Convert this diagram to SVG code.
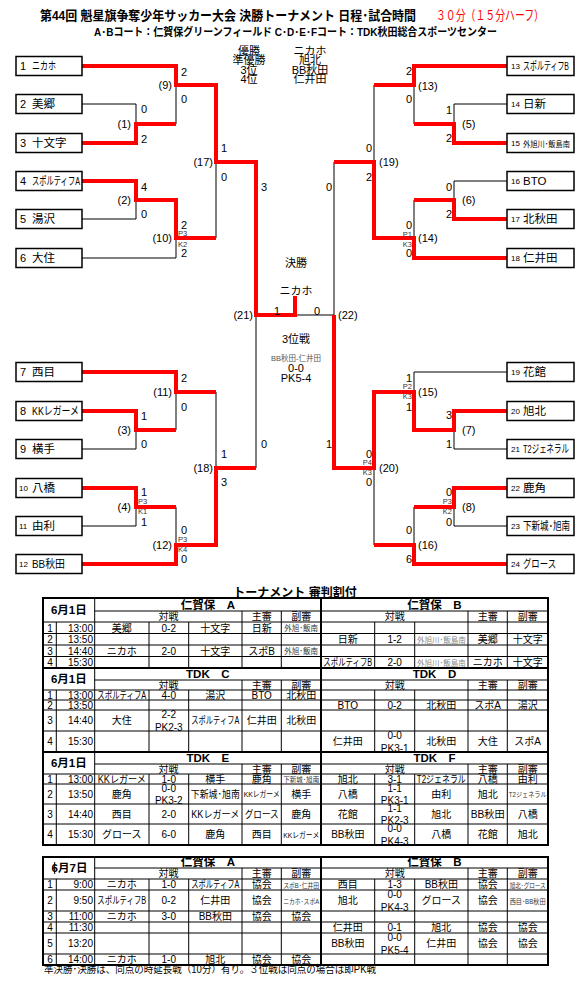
<svg xmlns="http://www.w3.org/2000/svg" width="588" height="983" viewBox="0 0 588 983">
<style>
text{font-family:"Liberation Sans","Noto Sans CJK JP",sans-serif;fill:#000}
.nm{font-size:11.5px}
.no{font-size:11px}
.ns{font-size:8px}
.sc{font-size:11px}
.pk{font-size:7.5px;fill:#333}
.bx{fill:#fff;stroke:#000;stroke-width:1.5}
.bl{fill:none;stroke:#000;stroke-width:1}
.rd{fill:none;stroke:#f00;stroke-width:4}
.m{text-anchor:middle}
.e{text-anchor:end}
.tb{font-size:10px}
.hb{font-size:11.5px;font-weight:bold}
.sm{font-size:7.5px;fill:#333}
.xs{font-size:6.5px;fill:#333}
.gr{fill:#888}
.tl{stroke:#000;stroke-width:1;fill:none}
.tk{stroke:#000;stroke-width:2;fill:none}
</style>

<g id="title">
<text x="40" y="20" font-size="13" font-weight="bold" textLength="376" lengthAdjust="spacingAndGlyphs">第44回 魁星旗争奪少年サッカー大会 決勝トーナメント 日程･試合時間</text>
<text x="436" y="20" font-size="13.5" style="fill:#f00" textLength="108" lengthAdjust="spacingAndGlyphs">３０分（１５分ハーフ）</text>
<text x="94" y="36" font-size="11" font-weight="bold" textLength="403" lengthAdjust="spacingAndGlyphs">A･Bコート：仁賀保グリーンフィールド C･D･E･Fコート：TDK秋田総合スポーツセンター</text>
</g>

<g id="results" font-size="11">
<text class="m" x="249" y="55">優勝</text>
<text class="m" x="249" y="64">準優勝</text>
<text class="m" x="249" y="73.5">3位</text>
<text class="m" x="249" y="83">4位</text>
<text class="m" x="310" y="55">ニカホ</text>
<text class="m" x="310" y="64">旭北</text>
<text class="m" x="310" y="73.5">BB秋田</text>
<text class="m" x="310" y="83">仁井田</text>
</g>

<g id="connectors">
<path class="bl" d="M82,104H136V143 M176,66V124 M82,219H136V181 M82,258H176V200 M216,85V238 M256,162V468 M82,449H136V411 M176,372V430 M82,526H136V488 M176,507V564 M216,392V545 M414,66V124 M507,104H454V143 M374,85V238 M507,181H454V219 M414,200V258 M334,162V468 M256,315H334 M507,372H414V430 M507,449H454V411 M374,392V545 M507,526H454V488 M414,507V564"/>
<path class="rd" d="M82,66H176V85H216V162H256V315H295V296"/>
<path class="rd" d="M82,143H136V124H176"/>
<path class="rd" d="M82,181H136V200H176V238H216"/>
<path class="rd" d="M82,372H176V392H216"/>
<path class="rd" d="M82,411H136V430H176"/>
<path class="rd" d="M82,488H136V507H176"/>
<path class="rd" d="M82,564H176V545H216V468H256"/>
<path class="rd" d="M507,66H414V85H374"/>
<path class="rd" d="M507,143H454V124H414"/>
<path class="rd" d="M507,219H454V200H414"/>
<path class="rd" d="M507,258H414V238H374V162H334"/>
<path class="rd" d="M507,411H454V430H414V392H374V468H334V315"/>
<path class="rd" d="M507,488H454V507H414"/>
<path class="rd" d="M507,564H414V545H374"/>
</g>

<g id="scores" class="sc">
<text x="181" y="76">2</text><text class="e" x="172" y="89">(9)</text><text x="181" y="103">0</text>
<text x="141" y="113">0</text><text class="e" x="131" y="128">(1)</text><text x="141" y="143">2</text>
<text x="221" y="152">1</text><text class="e" x="213" y="166">(17)</text><text x="221" y="181">0</text>
<text x="261" y="191">3</text>
<text x="141" y="191">4</text><text class="e" x="131" y="204">(2)</text><text x="141" y="218">0</text>
<text x="181" y="229">2</text><text class="pk" x="178" y="235.7">P3</text><text class="e" x="172" y="242">(10)</text><text class="pk" x="178" y="246.7">K2</text><text x="181" y="257">2</text>
<text class="e" x="253" y="319">(21)</text>
<text x="181" y="382">2</text><text class="e" x="172" y="396">(11)</text><text x="181" y="411">0</text>
<text x="141" y="420">1</text><text class="e" x="131" y="434">(3)</text><text x="141" y="448">0</text>
<text x="261" y="448">0</text>
<text x="221" y="458">1</text><text class="e" x="213" y="472">(18)</text><text x="221" y="486">3</text>
<text x="141" y="496">1</text><text class="pk" x="138" y="504.4">P3</text><text class="e" x="131" y="511">(4)</text><text class="pk" x="138" y="513.7">K1</text><text x="141" y="526">1</text>
<text x="181" y="534">0</text><text class="pk" x="178" y="541.7">P3</text><text class="e" x="172" y="549">(12)</text><text class="pk" x="178" y="551.7">K4</text><text x="181" y="563">0</text>

<text class="e" x="412" y="75">2</text><text x="418" y="89.7">(13)</text><text class="e" x="412" y="103">0</text>
<text class="e" x="452" y="114">1</text><text x="462" y="128">(5)</text><text class="e" x="452" y="142">2</text>
<text class="e" x="372" y="151.7">0</text><text x="379" y="165.7">(19)</text><text class="e" x="372" y="180.7">2</text>
<text class="e" x="332" y="190.7">0</text>
<text class="e" x="452" y="190.7">0</text><text x="462" y="204">(6)</text><text class="e" x="452" y="218">2</text>
<text class="e" x="412" y="229">0</text><text class="pk e" x="412" y="236.7">P1</text><text x="418" y="241.7">(14)</text><text class="pk e" x="412" y="246.7">K3</text><text class="e" x="412" y="257">0</text>
<text x="338" y="319">(22)</text>
<text class="e" x="412" y="381.7">1</text><text class="pk e" x="412" y="389.4">P2</text><text x="418" y="395.7">(15)</text><text class="pk e" x="412" y="399.4">K3</text><text class="e" x="412" y="410.7">1</text>
<text class="e" x="452" y="419">3</text><text x="462" y="434">(7)</text><text class="e" x="452" y="448">1</text>
<text class="e" x="332" y="448">1</text>
<text class="e" x="372" y="458">0</text><text class="pk e" x="372" y="465.4">P4</text><text x="379" y="472.3">(20)</text><text class="pk e" x="372" y="475.4">K3</text><text class="e" x="372" y="486">0</text>
<text class="e" x="452" y="496">0</text><text class="pk e" x="452" y="504.4">P3</text><text x="462" y="510.7">(8)</text><text class="pk e" x="452" y="513.7">K2</text><text class="e" x="452" y="525.7">0</text>
<text class="e" x="412" y="534">0</text><text x="418" y="549.3">(16)</text><text class="e" x="412" y="563">6</text>
</g>

<g id="final">
<text class="m" x="296" y="267" font-size="11">決勝</text>
<text class="m" x="296" y="295" font-size="11">ニカホ</text>
<text class="m sc" x="277" y="314.5">1</text>
<text class="m sc" x="317" y="314.5">0</text>
<text class="m" x="296" y="343" font-size="11">3位戦</text>
<text class="m" x="296" y="361" font-size="7.5" style="fill:#555">BB秋田-仁井田</text>
<text class="m sc" x="296" y="371.5">0-0</text>
<text class="m sc" x="296" y="382">PK5-4</text>
</g>

<g id="team-1"><rect class="bx" x="16" y="56.5" width="66" height="19"/><text class="no" x="20" y="70">1</text><text class="nm" x="32" y="70" textLength="24" lengthAdjust="spacingAndGlyphs">ニカホ</text></g>
<g id="team-2"><rect class="bx" x="16" y="94.5" width="66" height="19"/><text class="no" x="20" y="108">2</text><text class="nm" x="32" y="108">美郷</text></g>
<g id="team-3"><rect class="bx" x="16" y="133.5" width="66" height="19"/><text class="no" x="20" y="147">3</text><text class="nm" x="32" y="147">十文字</text></g>
<g id="team-4"><rect class="bx" x="16" y="171.5" width="66" height="19"/><text class="no" x="20" y="185">4</text><text class="nm" x="32" y="185" textLength="48" lengthAdjust="spacingAndGlyphs">スポルティフA</text></g>
<g id="team-5"><rect class="bx" x="16" y="209.5" width="66" height="19"/><text class="no" x="20" y="223">5</text><text class="nm" x="32" y="223">湯沢</text></g>
<g id="team-6"><rect class="bx" x="16" y="248.5" width="66" height="19"/><text class="no" x="20" y="262">6</text><text class="nm" x="32" y="262">大住</text></g>
<g id="team-7"><rect class="bx" x="16" y="362.5" width="66" height="19"/><text class="no" x="20" y="376">7</text><text class="nm" x="32" y="376">西目</text></g>
<g id="team-8"><rect class="bx" x="16" y="401.5" width="66" height="19"/><text class="no" x="20" y="415">8</text><text class="nm" x="32" y="415" textLength="47" lengthAdjust="spacingAndGlyphs">KKレガーメ</text></g>
<g id="team-9"><rect class="bx" x="16" y="439.5" width="66" height="19"/><text class="no" x="20" y="453">9</text><text class="nm" x="32" y="453">横手</text></g>
<g id="team-10"><rect class="bx" x="16" y="478.5" width="66" height="19"/><text class="ns" x="19" y="491">10</text><text class="nm" x="32" y="492">八橋</text></g>
<g id="team-11"><rect class="bx" x="16" y="516.5" width="66" height="19"/><text class="ns" x="19" y="529">11</text><text class="nm" x="32" y="530">由利</text></g>
<g id="team-12"><rect class="bx" x="16" y="554.5" width="66" height="19"/><text class="ns" x="19" y="567">12</text><text class="nm" x="32" y="568" textLength="33" lengthAdjust="spacingAndGlyphs">BB秋田</text></g>

<g id="team-13"><rect class="bx" x="507" y="56.5" width="67" height="19"/><text class="ns" x="511" y="69">13</text><text class="nm" x="523" y="70" textLength="46" lengthAdjust="spacingAndGlyphs">スポルティフB</text></g>
<g id="team-14"><rect class="bx" x="507" y="94.5" width="67" height="19"/><text class="ns" x="511" y="107">14</text><text class="nm" x="523" y="108">日新</text></g>
<g id="team-15"><rect class="bx" x="507" y="133.5" width="67" height="19"/><text class="ns" x="511" y="146">15</text><text x="523" y="146.5" font-size="8.5" textLength="47" lengthAdjust="spacingAndGlyphs">外旭川･飯島南</text></g>
<g id="team-16"><rect class="bx" x="507" y="171.5" width="67" height="19"/><text class="ns" x="511" y="184">16</text><text class="nm" x="523" y="185">BTO</text></g>
<g id="team-17"><rect class="bx" x="507" y="209.5" width="67" height="19"/><text class="ns" x="511" y="222">17</text><text class="nm" x="523" y="223">北秋田</text></g>
<g id="team-18"><rect class="bx" x="507" y="248.5" width="67" height="19"/><text class="ns" x="511" y="261">18</text><text class="nm" x="523" y="262">仁井田</text></g>
<g id="team-19"><rect class="bx" x="507" y="362.5" width="67" height="19"/><text class="ns" x="511" y="375">19</text><text class="nm" x="523" y="376">花館</text></g>
<g id="team-20"><rect class="bx" x="507" y="401.5" width="67" height="19"/><text class="ns" x="511" y="414">20</text><text class="nm" x="523" y="415">旭北</text></g>
<g id="team-21"><rect class="bx" x="507" y="439.5" width="67" height="19"/><text class="ns" x="511" y="452">21</text><text class="nm" x="523" y="453" textLength="46" lengthAdjust="spacingAndGlyphs">T2ジェネラル</text></g>
<g id="team-22"><rect class="bx" x="507" y="478.5" width="67" height="19"/><text class="ns" x="511" y="491">22</text><text class="nm" x="523" y="492">鹿角</text></g>
<g id="team-23"><rect class="bx" x="507" y="516.5" width="67" height="19"/><text class="ns" x="511" y="529">23</text><text class="nm" x="523" y="530" textLength="47" lengthAdjust="spacingAndGlyphs">下新城･旭南</text></g>
<g id="team-24"><rect class="bx" x="507" y="554.5" width="67" height="19"/><text class="ns" x="511" y="567">24</text><text class="nm" x="523" y="568" textLength="33" lengthAdjust="spacingAndGlyphs">グロース</text></g>

<g id="table-1">
<text class="m" x="295" y="596.5" font-size="12" font-weight="bold">トーナメント 審判割付</text>
<rect class="tk" x="43" y="598" width="505" height="247"/>
<path class="tk" d="M43,668H548 M43,752H548 M321,598V845"/>
<path class="tl" d="M94.7,611H548 M43,622H548 M43,633.5H548 M43,645H548 M43,656.5H548 M94.7,598V668 M56.3,622V668 M149,622V668 M188.7,622V668 M242,611V668 M281.3,611V668 M374.7,622V668 M414.7,622V668 M468,611V668 M507.3,611V668"/>
<path class="tl" d="M94.7,680H548 M43,690H548 M43,700H548 M43,710H548 M43,731H548 M94.7,668V752 M56.3,690V752 M149,690V752 M188.7,690V752 M242,680V752 M281.3,680V752 M374.7,690V752 M414.7,690V752 M468,680V752 M507.3,680V752"/>
<path class="tl" d="M94.7,764H548 M43,774H548 M43,784H548 M43,804H548 M43,824H548 M94.7,752V845 M56.3,774V845 M149,774V845 M188.7,774V845 M242,764V845 M281.3,764V845 M374.7,774V845 M414.7,774V845 M468,764V845 M507.3,764V845"/>

<g class="tb">
<text class="hb m" x="68.8" y="614">6月1日</text>
<text class="hb m" x="207.8" y="609">仁賀保　A</text>
<text class="hb m" x="434.5" y="609">仁賀保　B</text>
<text class="m" x="168.4" y="620">対戦</text><text class="m" x="261.7" y="620">主審</text><text class="m" x="301.2" y="620">副審</text>
<text class="m" x="394.7" y="620">対戦</text><text class="m" x="487.7" y="620">主審</text><text class="m" x="527.7" y="620">副審</text>
<text class="m" x="50" y="631.5">1</text><text class="e" x="93" y="631.5">13:00</text>
<text class="m" x="121.8" y="631.5">美郷</text><text class="m" x="168.8" y="631.5">0-2</text><text class="m" x="215.3" y="631.5">十文字</text><text class="m" x="261.7" y="631.5">日新</text><text class="m sm" x="301.2" y="631">外旭･飯南</text>
<text class="m" x="50" y="643">2</text><text class="e" x="93" y="643">13:50</text>
<text class="m" x="347.8" y="643">日新</text><text class="m" x="394.7" y="643">1-2</text><text class="m sm gr" x="441.3" y="642.5">外旭川･飯島南</text><text class="m" x="487.7" y="643">美郷</text><text class="m" x="527.7" y="643">十文字</text>
<text class="m" x="50" y="654.5">3</text><text class="e" x="93" y="654.5">14:40</text>
<text class="m" x="121.8" y="654.5">ニカホ</text><text class="m" x="168.8" y="654.5">2-0</text><text class="m" x="215.3" y="654.5">十文字</text><text class="m" x="261.7" y="654.5">スポB</text><text class="m sm" x="301.2" y="654">外旭･飯南</text>
<text class="m" x="50" y="666">4</text><text class="e" x="93" y="666">15:30</text>
<text class="m" x="347.8" y="666" textLength="49" lengthAdjust="spacingAndGlyphs">スポルティフB</text><text class="m" x="394.7" y="666">2-0</text><text class="m sm gr" x="441.3" y="665.5">外旭川･飯島南</text><text class="m" x="487.7" y="666">ニカホ</text><text class="m" x="527.7" y="666">十文字</text>

<text class="hb m" x="68.8" y="683">6月1日</text>
<text class="hb m" x="207.8" y="678">TDK　C</text>
<text class="hb m" x="434.5" y="678">TDK　D</text>
<text class="m" x="168.4" y="688.5">対戦</text><text class="m" x="261.7" y="688.5">主審</text><text class="m" x="301.2" y="688.5">副審</text>
<text class="m" x="394.7" y="688.5">対戦</text><text class="m" x="487.7" y="688.5">主審</text><text class="m" x="527.7" y="688.5">副審</text>
<text class="m" x="50" y="698.5">1</text><text class="e" x="93" y="698.5">13:00</text>
<text class="m" x="121.8" y="698.5" textLength="49" lengthAdjust="spacingAndGlyphs">スポルティフA</text><text class="m" x="168.8" y="698.5">4-0</text><text class="m" x="215.3" y="698.5">湯沢</text><text class="m" x="261.7" y="698.5">BTO</text><text class="m" x="301.2" y="698.5">北秋田</text>
<text class="m" x="50" y="708.5">2</text><text class="e" x="93" y="708.5">13:50</text>
<text class="m" x="347.8" y="708.5">BTO</text><text class="m" x="394.7" y="708.5">0-2</text><text class="m" x="441.3" y="708.5">北秋田</text><text class="m" x="487.7" y="708.5">スポA</text><text class="m" x="527.7" y="708.5">湯沢</text>
<text class="m" x="50" y="724">3</text><text class="e" x="93" y="724">14:40</text>
<text class="m" x="121.8" y="724">大住</text><text class="m" x="168.8" y="717.5">2-2</text><text class="m" x="168.8" y="730.5">PK2-3</text><text class="m" x="215.3" y="724" textLength="48" lengthAdjust="spacingAndGlyphs">スポルティフA</text><text class="m" x="261.7" y="724">仁井田</text><text class="m" x="301.2" y="724">北秋田</text>
<text class="m" x="50" y="745">4</text><text class="e" x="93" y="745">15:30</text>
<text class="m" x="347.8" y="745">仁井田</text><text class="m" x="394.7" y="738.5">0-0</text><text class="m" x="394.7" y="751.5">PK3-1</text><text class="m" x="441.3" y="745">北秋田</text><text class="m" x="487.7" y="745">大住</text><text class="m" x="527.7" y="745">スポA</text>

<text class="hb m" x="68.8" y="767">6月1日</text>
<text class="hb m" x="207.8" y="762">TDK　E</text>
<text class="hb m" x="434.5" y="762">TDK　F</text>
<text class="m" x="168.4" y="772.5">対戦</text><text class="m" x="261.7" y="772.5">主審</text><text class="m" x="301.2" y="772.5">副審</text>
<text class="m" x="394.7" y="772.5">対戦</text><text class="m" x="487.7" y="772.5">主審</text><text class="m" x="527.7" y="772.5">副審</text>
<text class="m" x="50" y="782.5">1</text><text class="e" x="93" y="782.5">13:00</text>
<text class="m" x="121.8" y="782.5" textLength="48" lengthAdjust="spacingAndGlyphs">KKレガーメ</text><text class="m" x="168.8" y="782.5">1-0</text><text class="m" x="215.3" y="782.5">横手</text><text class="m" x="261.7" y="782.5">鹿角</text><text class="m xs" x="301.2" y="782" textLength="36" lengthAdjust="spacingAndGlyphs">下新城･旭南</text>
<text class="m" x="347.8" y="782.5">旭北</text><text class="m" x="394.7" y="782.5">3-1</text><text class="m" x="441.3" y="782.5" textLength="49" lengthAdjust="spacingAndGlyphs">T2ジェネラル</text><text class="m" x="487.7" y="782.5">八橋</text><text class="m" x="527.7" y="782.5">由利</text>
<text class="m" x="50" y="797.5">2</text><text class="e" x="93" y="797.5">13:50</text>
<text class="m" x="121.8" y="797.5">鹿角</text><text class="m" x="168.8" y="791.5">0-0</text><text class="m" x="168.8" y="803.5">PK3-2</text><text class="m" x="215.3" y="797.5" textLength="49" lengthAdjust="spacingAndGlyphs">下新城･旭南</text><text class="m" x="261.7" y="797" font-size="8" textLength="36" lengthAdjust="spacingAndGlyphs">KKレガーメ</text><text class="m" x="301.2" y="797.5">横手</text>
<text class="m" x="347.8" y="797.5">八橋</text><text class="m" x="394.7" y="791.5">1-1</text><text class="m" x="394.7" y="803.5">PK3-1</text><text class="m" x="441.3" y="797.5">由利</text><text class="m" x="487.7" y="797.5">旭北</text><text class="m xs" x="527.7" y="797" textLength="38" lengthAdjust="spacingAndGlyphs">T2ジェネラル</text>
<text class="m" x="50" y="817.5">3</text><text class="e" x="93" y="817.5">14:40</text>
<text class="m" x="121.8" y="817.5">西目</text><text class="m" x="168.8" y="817.5">2-0</text><text class="m" x="215.3" y="817.5" textLength="48" lengthAdjust="spacingAndGlyphs">KKレガーメ</text><text class="m" x="261.7" y="817.5" textLength="34" lengthAdjust="spacingAndGlyphs">グロース</text><text class="m" x="301.2" y="817.5">鹿角</text>
<text class="m" x="347.8" y="817.5">花館</text><text class="m" x="394.7" y="811.5">1-1</text><text class="m" x="394.7" y="823.5">PK2-3</text><text class="m" x="441.3" y="817.5">旭北</text><text class="m" x="487.7" y="817.5" textLength="34" lengthAdjust="spacingAndGlyphs">BB秋田</text><text class="m" x="527.7" y="817.5">八橋</text>
<text class="m" x="50" y="838">4</text><text class="e" x="93" y="838">15:30</text>
<text class="m" x="121.8" y="838">グロース</text><text class="m" x="168.8" y="838">6-0</text><text class="m" x="215.3" y="838">鹿角</text><text class="m" x="261.7" y="838">西目</text><text class="m" x="301.2" y="837.5" font-size="8" textLength="36" lengthAdjust="spacingAndGlyphs">KKレガーメ</text>
<text class="m" x="347.8" y="838">BB秋田</text><text class="m" x="394.7" y="831.5">0-0</text><text class="m" x="394.7" y="844.5">PK4-3</text><text class="m" x="441.3" y="838">八橋</text><text class="m" x="487.7" y="838">花館</text><text class="m" x="527.7" y="838">旭北</text>
</g>
</g>

<g id="table-2">
<rect class="tk" x="43" y="857" width="505" height="108"/>
<path class="tk" d="M321,857V965"/>
<path class="tl" d="M94.7,868H548 M43,879H548 M43,890H548 M43,911H548 M43,922H548 M43,933H548 M43,954H548 M94.7,857V965 M56.3,879V965 M149,879V965 M188.7,879V965 M242,868V965 M281.3,868V965 M374.7,879V965 M414.7,879V965 M468,868V965 M507.3,868V965 M54.7,862V874"/>
<g class="tb">
<text class="hb m" x="69.5" y="871.7">6月7日</text>
<text class="hb m" x="207.8" y="866.2">仁賀保　A</text>
<text class="hb m" x="434.5" y="866.2">仁賀保　B</text>
<text class="m" x="168.4" y="877">対戦</text><text class="m" x="261.7" y="877">主審</text><text class="m" x="301.2" y="877">副審</text>
<text class="m" x="394.7" y="877">対戦</text><text class="m" x="487.7" y="877">主審</text><text class="m" x="527.7" y="877">副審</text>
<text class="m" x="50" y="888">1</text><text class="e" x="93" y="888">9:00</text>
<text class="m" x="121.8" y="888">ニカホ</text><text class="m" x="168.8" y="888">1-0</text><text class="m" x="215.3" y="888" textLength="48" lengthAdjust="spacingAndGlyphs">スポルティフA</text><text class="m" x="261.7" y="888">協会</text><text class="m xs" x="301.2" y="887.5" textLength="36" lengthAdjust="spacingAndGlyphs">スポB･仁井田</text>
<text class="m" x="347.8" y="888">西目</text><text class="m" x="394.7" y="888">1-3</text><text class="m" x="441.3" y="888">BB秋田</text><text class="m" x="487.7" y="888">協会</text><text class="m xs" x="527.7" y="887.5" textLength="36" lengthAdjust="spacingAndGlyphs">旭北･グロース</text>
<text class="m" x="50" y="904">2</text><text class="e" x="93" y="904">9:50</text>
<text class="m" x="121.8" y="904" textLength="49" lengthAdjust="spacingAndGlyphs">スポルティフB</text><text class="m" x="168.8" y="904">0-2</text><text class="m" x="215.3" y="904">仁井田</text><text class="m" x="261.7" y="904">協会</text><text class="m xs" x="301.2" y="903.5" textLength="36" lengthAdjust="spacingAndGlyphs">ニカホ･スポA</text>
<text class="m" x="347.8" y="904">旭北</text><text class="m" x="394.7" y="897.5">0-0</text><text class="m" x="394.7" y="910.5">PK4-3</text><text class="m" x="441.3" y="904">グロース</text><text class="m" x="487.7" y="904">協会</text><text class="m xs" x="527.7" y="903.5" textLength="36" lengthAdjust="spacingAndGlyphs">西目･BB秋田</text>
<text class="m" x="50" y="920">3</text><text class="e" x="93" y="920">11:00</text>
<text class="m" x="121.8" y="920">ニカホ</text><text class="m" x="168.8" y="920">3-0</text><text class="m" x="215.3" y="920">BB秋田</text><text class="m" x="261.7" y="920">協会</text><text class="m" x="301.2" y="920">協会</text>
<text class="m" x="50" y="931">4</text><text class="e" x="93" y="931">11:30</text>
<text class="m" x="347.8" y="931">仁井田</text><text class="m" x="394.7" y="931">0-1</text><text class="m" x="441.3" y="931">旭北</text><text class="m" x="487.7" y="931">協会</text><text class="m" x="527.7" y="931">協会</text>
<text class="m" x="50" y="947">5</text><text class="e" x="93" y="947">13:20</text>
<text class="m" x="347.8" y="947">BB秋田</text><text class="m" x="394.7" y="940.5">0-0</text><text class="m" x="394.7" y="953.5">PK5-4</text><text class="m" x="441.3" y="947">仁井田</text><text class="m" x="487.7" y="947">協会</text><text class="m" x="527.7" y="947">協会</text>
<text class="m" x="50" y="963">6</text><text class="e" x="93" y="963">14:00</text>
<text class="m" x="121.8" y="963">ニカホ</text><text class="m" x="168.8" y="963">1-0</text><text class="m" x="215.3" y="963">旭北</text><text class="m" x="261.7" y="963">協会</text><text class="m" x="301.2" y="963">協会</text>
</g>
<text x="44" y="973" font-size="10" textLength="332" lengthAdjust="spacingAndGlyphs">準決勝･決勝は、同点の時延長戦（10分）有り。３位戦は同点の場合は即PK戦</text>
</g>
</svg>
